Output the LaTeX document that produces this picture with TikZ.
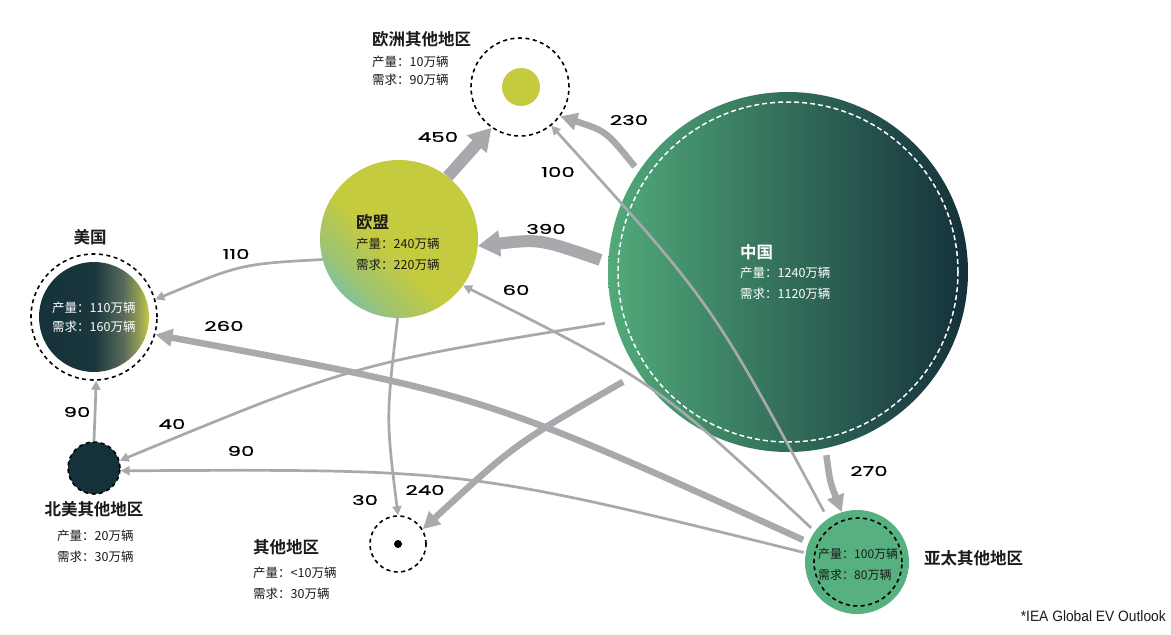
\documentclass[tikz,border=0pt]{standalone}
\usepackage{fontspec}
\setmainfont{Noto Sans CJK SC}
\newfontfamily\cjkb{Noto Sans CJK SC Bold}
\newfontfamily\numfont[FakeStretch=1.58,FakeBold=0.8]{Poppins}
\newfontfamily\footfont[FakeStretch=0.92]{Liberation Sans}
\usetikzlibrary{arrows.meta}
\definecolor{flow}{HTML}{A7A9AC}
\definecolor{cLime}{HTML}{C4CB3F}
\definecolor{cTeal}{HTML}{7BBFAA}
\definecolor{cMix}{HTML}{A2C46A}
\definecolor{cnL}{HTML}{51AB7A}
\definecolor{cnR}{HTML}{14303A}
\definecolor{apFill}{HTML}{56B07F}
\definecolor{usD}{HTML}{15313A}
\definecolor{usD2}{HTML}{1A373D}
\definecolor{usM}{HTML}{56695A}
\definecolor{usM2}{HTML}{8E9A55}
\definecolor{txt}{HTML}{1A1A1A}
\pgfdeclarehorizontalshading{cnshade}{100bp}{color(0bp)=(cnL); color(25bp)=(cnL); color(75bp)=(cnR); color(100bp)=(cnR)}
\pgfdeclarehorizontalshading{usshade}{100bp}{color(0bp)=(usD); color(25bp)=(usD); color(50bp)=(usD2); color(63bp)=(usM); color(70bp)=(usM2); color(75bp)=(cLime); color(100bp)=(cLime)}
\pgfdeclareverticalshading{eushade}{100bp}{color(0bp)=(cTeal); color(22bp)=(cTeal); color(33bp)=(cMix); color(45bp)=(cLime); color(100bp)=(cLime)}
\begin{document}
\begin{tikzpicture}[x=1pt,y=-1pt,
  fthin/.style={draw=flow, line width=2.7pt, -{Triangle[length=9pt,width=9pt]}},
  fmid/.style={draw=flow, line width=6.5pt, -{Triangle[length=17pt,width=17pt]}},
  fthick/.style={draw=flow, line width=12pt, -{Triangle[length=22pt,width=25pt]}},
  ttl/.style={font=\cjkb\fontsize{16.5}{18}\selectfont, text=txt, inner sep=0},
  info/.style={font=\fontsize{12.5}{14}\selectfont, text=txt, inner sep=0},
  num/.style={font=\numfont\fontsize{13.5}{14}\selectfont, text=black, inner sep=0},
  dcirc/.style={circle, draw=black, line width=1.6pt, dash pattern=on 4pt off 3.5pt, inner sep=0},
]
\fill[white] (0,0) rectangle (1171,635);
\useasboundingbox (0,0) rectangle (1171,635);

% ---- circles ----
\node[circle, inner sep=0, minimum size=360pt, shade, shading=cnshade] (cn) at (788,272) {};
\node[circle, inner sep=0, minimum size=340pt, draw=white, line width=1.5pt, dash pattern=on 5pt off 3pt] (cnin) at (788,272) {};
\node[circle, inner sep=0, minimum size=158pt, shade, shading=eushade, shading angle=-45] (eu) at (399,239) {};
\node[dcirc, minimum size=98pt] (euo) at (520,87) {};
\node[circle, inner sep=0, minimum size=38pt, fill=cLime] (euodot) at (521,87) {};
\node[dcirc, minimum size=126pt] (us) at (94,317) {};
\node[circle, inner sep=0, minimum size=110pt, shade, shading=usshade] (usin) at (94,317) {};
\node[dcirc, minimum size=52pt, fill=usD] (nao) at (94,468) {};
\node[dcirc, minimum size=56pt] (oth) at (398,544) {};
\node[circle, inner sep=0, minimum size=8pt, fill=black] (othdot) at (398,544) {};
\node[circle, inner sep=0, minimum size=104pt, fill=apFill] (ap) at (857,562) {};
\node[dcirc, minimum size=88pt] (apin) at (858,562) {};

% ---- texts ----
\node[ttl, anchor=west] (euoT) at (372,39) {欧洲其他地区};
\node[info, anchor=west] (euoP) at (372,62) {产量：10万辆};
\node[info, anchor=west] (euoD) at (372,80) {需求：90万辆};

\node[ttl, anchor=west] (euT) at (356,222) {欧盟};
\node[info, anchor=west] (euP) at (356,244) {产量：240万辆};
\node[info, anchor=west] (euD) at (356,265) {需求：220万辆};

\node[ttl, anchor=west, text=white] (cnT) at (740,252) {中国};
\node[info, anchor=west, text=white] (cnP) at (740,273) {产量：1240万辆};
\node[info, anchor=west, text=white] (cnD) at (740,294) {需求：1120万辆};

\node[ttl] (usT) at (90,237) {美国};
\node[info, anchor=west, text=white] (usP) at (52,308) {产量：110万辆};
\node[info, anchor=west, text=white] (usD) at (52,327) {需求：160万辆};

\node[ttl] (naoT) at (94,509) {北美其他地区};
\node[info, anchor=west] (naoP) at (57,536) {产量：20万辆};
\node[info, anchor=west] (naoD) at (57,557) {需求：30万辆};

\node[ttl, anchor=west] (othT) at (253,547) {其他地区};
\node[info, anchor=west] (othP) at (253,573) {产量：<10万辆};
\node[info, anchor=west] (othD) at (253,594) {需求：30万辆};

\node[ttl, anchor=west] (apT) at (924,558) {亚太其他地区};
\node[info, anchor=west, font=\fontsize{12}{14}\selectfont] (apP) at (818,554) {产量：100万辆};
\node[info, anchor=west, font=\fontsize{12}{14}\selectfont] (apD) at (818,575) {需求：80万辆};

\node[anchor=east, inner sep=0, font=\footfont\fontsize{15}{16}\selectfont, text=txt] (src) at (1166,616) {*IEA Global EV Outlook};

% ---- flows ----
\draw[fthick] (eu.52) -- (euo.235);
\draw[fmid, shorten <=6pt] (cn.146) .. controls (606,131) .. (euo.-36);
\draw[fthin, shorten <=8pt] (ap.124) .. controls (712,303) .. (euo.-51);
\draw[fthick, shorten <=8pt] (cn.177) .. controls (540,239) .. (eu.-5);
\draw[fthin, shorten <=5pt] (ap.144) .. controls (655,382) .. (eu.-36);
\draw[fthin] (eu.195) .. controls (241,264) .. (us.16);
\draw[fmid, shorten <=6pt] (ap.158) .. controls (487,396) .. (us.-16);
\draw[fthin, shorten <=10pt] (cn.196) .. controls (354,364) .. (nao.16);
\draw[fthin, shorten <=2pt] (ap.170) .. controls (466,469) .. (nao.-6);
\draw[fthin] (nao.90) -- (us.-88);
\draw[fthin] (eu.269) .. controls (386,418) .. (oth.90);
\draw[fmid, shorten <=18pt] (cn.214) .. controls (515,444) .. (oth.31);
\draw[fmid, shorten <=7pt] (cn.-78) .. controls (830,482) .. (ap.107);

% ---- flow labels ----
\node[num] (n450) at (438,137) {450};
\node[num] (n230) at (629,120) {230};
\node[num] (n100) at (558,172) {100};
\node[num] (n390) at (546,229) {390};
\node[num] (n60) at (516,290) {60};
\node[num] (n110) at (236,254) {110};
\node[num] (n260) at (224,326) {260};
\node[num] (n90a) at (77,412) {90};
\node[num] (n40) at (172,424) {40};
\node[num] (n90b) at (241,451) {90};
\node[num] (n30) at (365,500) {30};
\node[num] (n240) at (425,490) {240};
\node[num] (n270) at (869,471) {270};
\end{tikzpicture}
\end{document}
